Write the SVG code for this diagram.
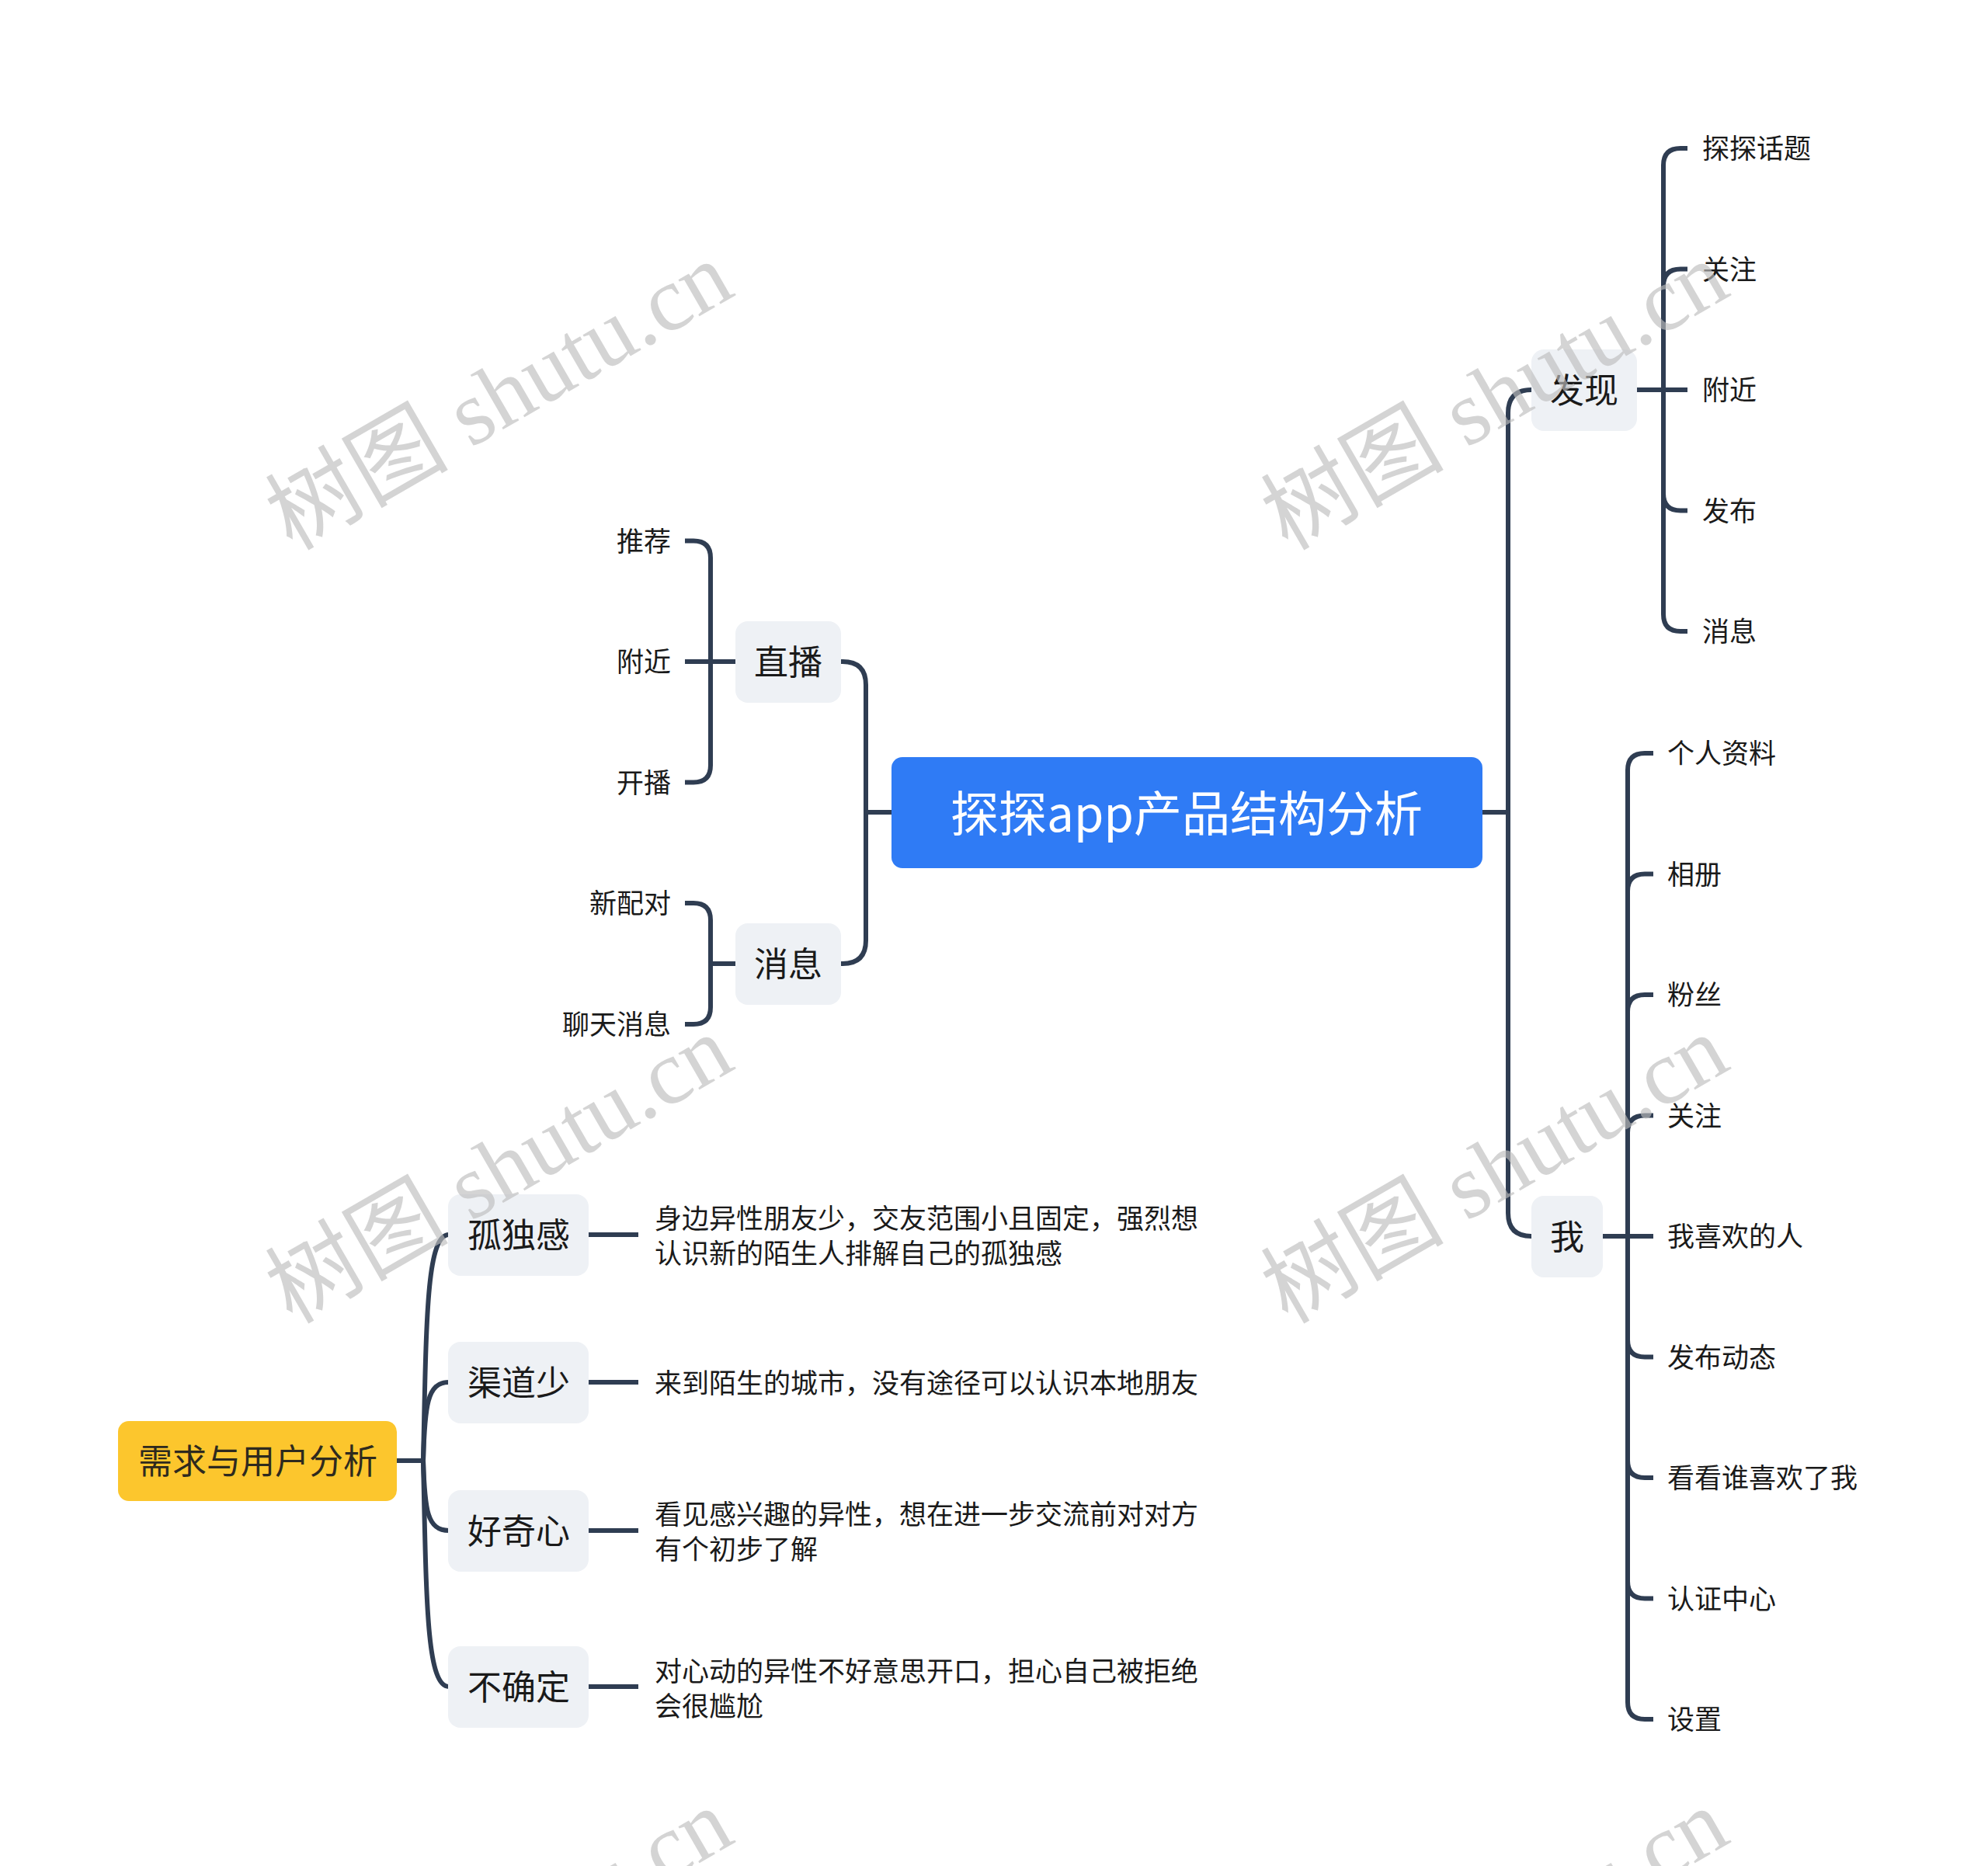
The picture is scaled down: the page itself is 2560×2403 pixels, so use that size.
<svg xmlns="http://www.w3.org/2000/svg" width="2560" height="2403" viewBox="0 0 2560 2403">
<defs>
<style>
.c{fill:none;stroke:#2f3d52;stroke-width:6;stroke-linejoin:round}
.n1{fill:#eef1f5}
.t{font-family:"Noto Sans CJK SC","Noto Sans",sans-serif;fill:#1a1a1a;dominant-baseline:central}
.t1{font-size:44px;text-anchor:middle}
.t2{font-size:35px}
.r{text-anchor:end}
.wm{font-family:"Liberation Serif","Noto Sans CJK SC",serif;font-size:118px;fill:#bdbdbd;fill-opacity:0.65}
</style>
</defs>
<rect width="2560" height="2403" fill="#ffffff"/>

<g id="connectors">
<path class="c" d="M1909 1046 H1942 V532 Q1942 502 1972 502"/>
<path class="c" d="M1909 1046 H1942 V1562 Q1942 1592 1972 1592"/>
<path class="c" d="M1148 1046 H1115 V882 Q1115 852 1085 852 H1083"/>
<path class="c" d="M1148 1046 H1115 V1211 Q1115 1241 1085 1241 H1083"/>

<path class="c" d="M2108 502 H2142 V213 Q2142 191 2164 191 H2173"/>
<path class="c" d="M2108 502 H2142 V368.5 Q2142 346.5 2164 346.5 H2173"/>
<path class="c" d="M2108 502 H2173"/>
<path class="c" d="M2108 502 H2142 V635.5 Q2142 657.5 2164 657.5 H2173"/>
<path class="c" d="M2108 502 H2142 V791 Q2142 813 2164 813 H2173"/>

<path class="c" d="M2064 1592 H2096 V992 Q2096 970 2118 970 H2129"/>
<path class="c" d="M2064 1592 H2096 V1147.5 Q2096 1125.5 2118 1125.5 H2129"/>
<path class="c" d="M2064 1592 H2096 V1303 Q2096 1281 2118 1281 H2129"/>
<path class="c" d="M2064 1592 H2096 V1458.5 Q2096 1436.5 2118 1436.5 H2129"/>
<path class="c" d="M2064 1592 H2129"/>
<path class="c" d="M2064 1592 H2096 V1725.5 Q2096 1747.5 2118 1747.5 H2129"/>
<path class="c" d="M2064 1592 H2096 V1881 Q2096 1903 2118 1903 H2129"/>
<path class="c" d="M2064 1592 H2096 V2036.5 Q2096 2058.5 2118 2058.5 H2129"/>
<path class="c" d="M2064 1592 H2096 V2192 Q2096 2214 2118 2214 H2129"/>

<path class="c" d="M947 852 H915 V718.5 Q915 696.5 893 696.5 H882"/>
<path class="c" d="M947 852 H882"/>
<path class="c" d="M947 852 H915 V985.5 Q915 1007.5 893 1007.5 H882"/>
<path class="c" d="M947 1241 H915 V1185 Q915 1163 893 1163 H882"/>
<path class="c" d="M947 1241 H915 V1297 Q915 1319 893 1319 H882"/>

<path class="c" d="M511 1881 H545"/>
<path class="c" d="M545 1881 C549 1700 549 1590 578 1590"/>
<path class="c" d="M545 1881 C547 1810 550 1780 578 1780"/>
<path class="c" d="M545 1881 C547 1945 550 1971 578 1971"/>
<path class="c" d="M545 1881 C549 2060 549 2172 578 2172"/>

<path class="c" d="M758 1590 H822"/>
<path class="c" d="M758 1780 H822"/>
<path class="c" d="M758 1971 H822"/>
<path class="c" d="M758 2172 H822"/>
</g>

<g id="root">
<rect x="1148" y="975" width="761" height="143" rx="14" fill="#2f7bf5"/>
<text class="t" x="1528" y="1044" font-size="62" text-anchor="middle" style="fill:#ffffff">探探app产品结构分析</text>
</g>

<g id="zhibo"><rect class="n1" x="947" y="800" width="136" height="105" rx="16"/><text class="t t1" x="1015" y="850">直播</text></g>
<g id="xiaoxi"><rect class="n1" x="947" y="1189" width="136" height="105" rx="16"/><text class="t t1" x="1015" y="1239">消息</text></g>
<g id="faxian"><rect class="n1" x="1972" y="450" width="136" height="105" rx="16"/><text class="t t1" x="2040" y="500">发现</text></g>
<g id="wo"><rect class="n1" x="1972" y="1540" width="92" height="105" rx="16"/><text class="t t1" x="2018" y="1590">我</text></g>

<g id="zhibo-children">
<text class="t t2 r" x="864" y="694">推荐</text>
<text class="t t2 r" x="864" y="849">附近</text>
<text class="t t2 r" x="864" y="1005">开播</text>
</g>
<g id="xiaoxi-children">
<text class="t t2 r" x="864" y="1160">新配对</text>
<text class="t t2 r" x="864" y="1316">聊天消息</text>
</g>
<g id="faxian-children">
<text class="t t2" x="2192" y="188">探探话题</text>
<text class="t t2" x="2192" y="344">关注</text>
<text class="t t2" x="2192" y="499">附近</text>
<text class="t t2" x="2192" y="655">发布</text>
<text class="t t2" x="2192" y="810">消息</text>
</g>
<g id="wo-children">
<text class="t t2" x="2147" y="967">个人资料</text>
<text class="t t2" x="2147" y="1123">相册</text>
<text class="t t2" x="2147" y="1278">粉丝</text>
<text class="t t2" x="2147" y="1434">关注</text>
<text class="t t2" x="2147" y="1589">我喜欢的人</text>
<text class="t t2" x="2147" y="1745">发布动态</text>
<text class="t t2" x="2147" y="1900">看看谁喜欢了我</text>
<text class="t t2" x="2147" y="2056">认证中心</text>
<text class="t t2" x="2147" y="2211">设置</text>
</g>

<g id="needs">
<rect x="152" y="1830" width="359" height="103" rx="14" fill="#fcc62d"/>
<text class="t t1" x="332" y="1879" style="fill:#2e2a1e">需求与用户分析</text>
</g>
<g id="gudugan"><rect class="n1" x="577" y="1538" width="181" height="105" rx="16"/><text class="t t1" x="668" y="1588">孤独感</text></g>
<g id="qudaoshao"><rect class="n1" x="577" y="1728" width="181" height="105" rx="16"/><text class="t t1" x="668" y="1778">渠道少</text></g>
<g id="haoqixin"><rect class="n1" x="577" y="1919" width="181" height="105" rx="16"/><text class="t t1" x="668" y="1969">好奇心</text></g>
<g id="buqueding"><rect class="n1" x="577" y="2120" width="181" height="105" rx="16"/><text class="t t1" x="668" y="2170">不确定</text></g>

<g id="descriptions">
<text class="t t2" x="843" y="1566">身边异性朋友少，交友范围小且固定，强烈想</text>
<text class="t t2" x="843" y="1611">认识新的陌生人排解自己的孤独感</text>
<text class="t t2" x="843" y="1778">来到陌生的城市，没有途径可以认识本地朋友</text>
<text class="t t2" x="843" y="1947">看见感兴趣的异性，想在进一步交流前对对方</text>
<text class="t t2" x="843" y="1992">有个初步了解</text>
<text class="t t2" x="843" y="2149">对心动的异性不好意思开口，担心自己被拒绝</text>
<text class="t t2" x="843" y="2194">会很尴尬</text>
</g>

<g id="watermarks">
<text class="wm" transform="translate(376 710) rotate(-30)">树图 shutu.cn</text>
<text class="wm" transform="translate(1658 710) rotate(-30)">树图 shutu.cn</text>
<text class="wm" transform="translate(376 1706) rotate(-30)">树图 shutu.cn</text>
<text class="wm" transform="translate(1658 1706) rotate(-30)">树图 shutu.cn</text>
<text class="wm" transform="translate(376 2702) rotate(-30)">树图 shutu.cn</text>
<text class="wm" transform="translate(1658 2702) rotate(-30)">树图 shutu.cn</text>
</g>
</svg>
